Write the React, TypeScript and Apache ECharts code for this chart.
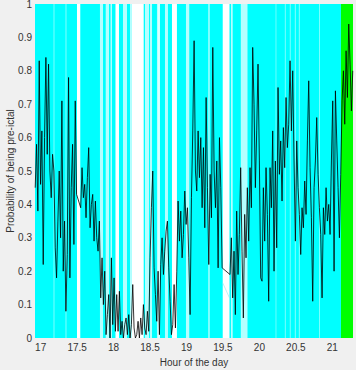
import React, { useEffect, useRef } from "react";
import * as echarts from "echarts";

// ---- axis ----
const X_MIN = 16.922;
const X_MAX = 21.284;
const xTickLabels = [17, 17.5, 18, 18.5, 19, 19.5, 20, 20.5, 21];
const xTitle = "Hour of the day";
const yTitle = "Probability of being pre-ictal";

// ---- probability trace (sampled every SAMPLE_STEP_H hours, three recording segments) ----
const SAMPLE_STEP_H = 0.0183;
const seg1Start = 16.925;
const seg1Values = [
  0.45, 0.58, 0.38, 0.83, 0.46, 0.62, 0.22, 0.6, 0.84, 0.55, 0.82, 0.5, 0.42, 0.55, 0.5, 0.27,
  0.18, 0.35, 0.5, 0.3, 0.71, 0.2, 0.35, 0.08, 0.25, 0.78, 0.18, 0.45, 0.58, 0.28, 0.71, 0.43,
];
const seg2Start = 17.549;
const seg2Values = [
  0.39, 0.51, 0.42, 0.46, 0.36, 0.48, 0.57, 0.33, 0.4, 0.43,
  0.29, 0.41, 0.3, 0.26, 0.35, 0.12, 0.24, 0.1, 0.2, 0.01,
  0.07, 0.13, 0.0, 0.24, 0.04, 0.18, 0.02, 0.13, 0.02, 0.14,
  0.01, 0.05, 0.0, 0.04, 0.06, 0.01, 0.07, 0.0, 0.04, 0.16,
  0.03, 0.0, 0.01, 0.05, 0.0, 0.06, 0.01, 0.1, 0.03, 0.01,
  0.08, 0.02, 0.24, 0.39, 0.5, 0.21, 0.13, 0.05, 0.2, 0.01,
  0.22, 0.3, 0.19, 0.26, 0.32, 0.35, 0.21, 0.11, 0.01, 0.04,
  0.16, 0.03, 0.2, 0.41, 0.29, 0.38, 0.24, 0.31, 0.44, 0.34,
  0.39, 0.24, 0.07, 0.42, 0.62, 0.89, 0.5, 0.44, 0.62, 0.48,
  0.6, 0.39, 0.57, 0.33, 0.72, 0.45, 0.22, 0.49, 0.36, 0.87,
  0.5, 0.39, 0.53, 0.21, 0.6, 0.45, 0.21,
];
const seg3Start = 19.597;
const seg3Values = [
  0.19, 0.3, 0.12, 0.26, 0.07, 0.38, 0.19, 0.31, 0.51, 0.26,
  0.06, 0.37, 0.24, 0.45, 0.29, 0.51, 0.39, 0.87, 0.7, 0.45,
  0.62, 0.82, 0.53, 0.18, 0.17, 0.45, 0.29, 0.51, 0.37, 0.11,
  0.51, 0.39, 0.62, 0.2, 0.53, 0.27, 0.75, 0.49, 0.59, 0.41,
  0.63, 0.51, 0.72, 0.57, 0.64, 0.83, 0.62, 0.8, 0.53, 0.29,
  0.59, 0.45, 0.37, 0.25, 0.39, 0.33, 0.47, 0.37, 0.59, 0.77,
  0.51, 0.36, 0.11, 0.45, 0.53, 0.66, 0.49, 0.39, 0.31, 0.12,
  0.39, 0.31, 0.45, 0.35, 0.4, 0.31, 0.53, 0.71, 0.2, 0.74,
  0.59, 0.45, 0.3, 0.49, 0.71, 0.8, 0.64, 0.86, 0.72, 0.94,
  0.82, 0.68, 0.8,
];
// faint cyan trace crossing the 19.5 h data gap
const cyanTrace = [
  [19.497, 0.165],
  [19.59, 0.12],
];

// ---- state bands (hours) ----
const interictalSpans = [[16.922, 21.119]];
const faintStripes = [
  [17.176, 17.189], [17.34, 17.354], [19.295, 19.322], [20.222, 20.233],
  [20.349, 20.362], [20.417, 20.43], [20.486, 20.5], [20.541, 20.555], [20.818, 20.831],
];
const lowConfidenceStripes = [
  [17.813, 17.855], [17.892, 17.937], [18.129, 18.184], [18.225, 18.252], [18.431, 18.486],
  [18.499, 18.527], [18.595, 18.636], [18.705, 18.746], [18.993, 19.038], [19.61, 19.634],
  [19.745, 19.837],
];
const unlabeledStripes = [
  [17.96, 17.974], [18.026, 18.074], [18.252, 18.413], [18.616, 18.63], [18.801, 18.869],
];
const dataGaps = [
  [17.498, 17.543],
  [19.497, 19.59],
];
const preictalSpans = [[21.119, 21.284]];

const segments = [
  { start: seg1Start, values: seg1Values },
  { start: seg2Start, values: seg2Values },
  { start: seg3Start, values: seg3Values },
];

const FONT = "'Liberation Sans', Arial, Helvetica, sans-serif";
const TEXT = "#333333";

function bandSeries(name: string, data: number[][], color: string, z: number) {
  return {
    type: "custom",
    name,
    data,
    z,
    silent: true,
    clip: true,
    encode: { x: [0, 1] },
    renderItem: (_params: any, api: any) => {
      const p0 = api.coord([api.value(0), 1]);
      const p1 = api.coord([api.value(1), 0]);
      return {
        type: "rect",
        shape: { x: p0[0], y: p0[1], width: p1[0] - p0[0], height: p1[1] - p0[1] },
        style: { fill: color },
      };
    },
  };
}

export default function App() {
  const ref = useRef<HTMLDivElement>(null);

  useEffect(() => {
    if (!ref.current) return;
    const chart = echarts.init(ref.current, undefined, { renderer: "svg" });
    const linePoints: number[][] = [];
    segments.forEach((s) => {
      s.values.forEach((v, i) => linePoints.push([s.start + i * SAMPLE_STEP_H, v]));
    });

    chart.setOption({
      animation: false,
      backgroundColor: "#f0f0f0",
      grid: { left: 35, right: 3, top: 4, bottom: 32, outerBoundsMode: "none" },
      xAxis: {
        type: "value",
        min: X_MIN,
        max: X_MAX,
        name: xTitle,
        nameLocation: "middle",
        nameGap: 19,
        nameMoveOverlap: false,
        nameTextStyle: { color: TEXT, fontSize: 10, fontFamily: FONT },
        axisLine: { show: false },
        axisTick: { show: false },
        splitLine: { show: false },
        axisLabel: {
          customValues: xTickLabels,
          margin: 4,
          color: TEXT,
          fontSize: 10,
          fontFamily: FONT,
          formatter: (v: number) => String(v),
        },
      },
      yAxis: {
        type: "value",
        min: 0,
        max: 1,
        interval: 0.1,
        name: yTitle,
        nameLocation: "middle",
        nameRotate: 90,
        nameGap: 20,
        nameMoveOverlap: false,
        nameTextStyle: { color: TEXT, fontSize: 10, fontFamily: FONT },
        axisLine: { show: false },
        axisTick: { show: false },
        splitLine: { show: false },
        axisLabel: {
          margin: 3,
          color: TEXT,
          fontSize: 10,
          fontFamily: FONT,
          formatter: (v: number) => String(Math.round(v * 10) / 10),
        },
      },
      series: [
        bandSeries("interictal", interictalSpans, "#00ffff", 1),
        bandSeries("faint", faintStripes, "#80ffff", 1),
        bandSeries("low confidence", lowConfidenceStripes, "#b4ffff", 1),
        bandSeries("unlabeled", unlabeledStripes, "#ffffff", 1),
        bandSeries("gaps", dataGaps, "#ffffff", 1),
        bandSeries("preictal", preictalSpans, "#00ff00", 1),
        {
          type: "line",
          name: "cyan trace",
          data: cyanTrace,
          z: 2,
          showSymbol: false,
          silent: true,
          lineStyle: { color: "#8ee8f0", width: 0.6 },
        },
        {
          type: "line",
          name: "probability",
          data: linePoints,
          z: 3,
          showSymbol: false,
          silent: true,
          lineStyle: { color: "#000000", width: 0.8 },
        },
      ],
    });
    return () => chart.dispose();
  }, []);

  return (
    <div
      ref={ref}
      style={{ position: "fixed", left: 0, top: 0, width: 356, height: 370, background: "#f0f0f0" }}
    />
  );
}
